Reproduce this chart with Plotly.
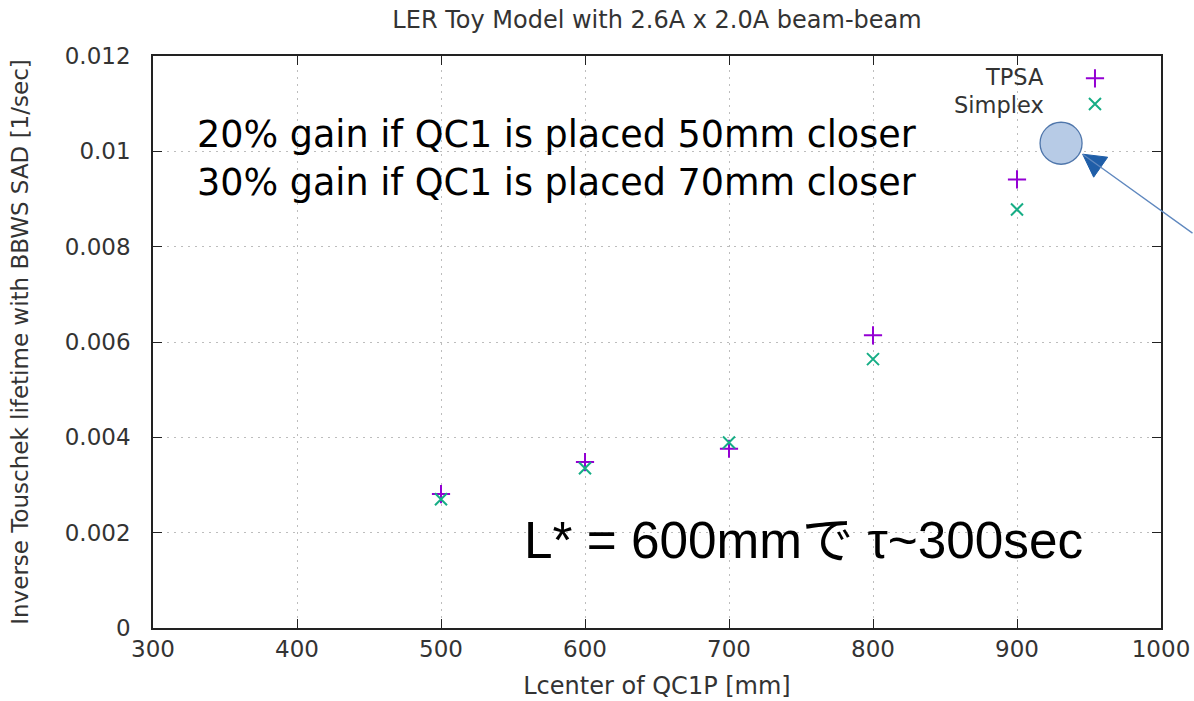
import plotly.graph_objects as go

# ---- data ----
lcenter = [500, 600, 700, 800, 900]
tpsa = [0.00281, 0.00348, 0.00376, 0.00614, 0.00941]
simplex = [0.00270, 0.00335, 0.00389, 0.00564, 0.00878]
series_names = ["TPSA", "Simplex"]
x_ticks = [300, 400, 500, 600, 700, 800, 900, 1000]
y_ticks = [0, 0.002, 0.004, 0.006, 0.008, 0.010, 0.012]
y_tick_labels = ["0", "0.002", "0.004", "0.006", "0.008", "0.01", "0.012"]
highlight = (930.6, 0.01017)     # circled target point
arrow_tip = (945.6, 0.00994)

title = "LER Toy Model with 2.6A x 2.0A beam-beam"
x_title = "Lcenter of QC1P [mm]"
y_title = "Inverse Touschek lifetime with BBWS SAD [1/sec]"
note1 = "20% gain if QC1 is placed 50mm closer"
note2 = "30% gain if QC1 is placed 70mm closer"
note3 = "L* = 600mmで τ~300sec"

PURPLE = "#9400d3"
GREEN = "#16ad85"
GNU_FONT = "DejaVu Sans"
TXT = "#333333"

fig = go.Figure()
fig.add_trace(go.Scatter(x=lcenter, y=tpsa, mode="markers", name=series_names[0],
                         marker=dict(symbol="cross-thin", size=13, line=dict(width=2, color=PURPLE)),
                         showlegend=False))
fig.add_trace(go.Scatter(x=lcenter, y=simplex, mode="markers", name=series_names[1],
                         marker=dict(symbol="x-thin", size=12, line=dict(width=2, color=GREEN)),
                         showlegend=False))

# legend keys (gnuplot style: text then symbol) on a hidden overlay axis
fig.add_trace(go.Scatter(x=[0.9345], y=[0.961], mode="markers", xaxis="x2", yaxis="y2",
                         marker=dict(symbol="cross-thin", size=13, line=dict(width=2, color=PURPLE)),
                         showlegend=False, hoverinfo="skip"))
fig.add_trace(go.Scatter(x=[0.9345], y=[0.916], mode="markers", xaxis="x2", yaxis="y2",
                         marker=dict(symbol="x-thin", size=12, line=dict(width=2, color=GREEN)),
                         showlegend=False, hoverinfo="skip"))

axis_common = dict(showline=True, linecolor="#222222", linewidth=1.6, mirror="ticks",
                   ticks="inside", ticklen=9, tickwidth=1.3, tickcolor="#222222",
                   showgrid=True, gridcolor="#bdbdbd", griddash="2px,5px", gridwidth=1,
                   zeroline=False, automargin=False,
                   tickfont=dict(family=GNU_FONT, size=23, color=TXT))

fig.update_layout(
    width=1194, height=701,
    margin=dict(l=153, r=33, t=56, b=73),
    paper_bgcolor="white", plot_bgcolor="white",
    title=dict(text=title, xref="paper", x=0.5, xanchor="center", y=0.972, yanchor="middle",
               font=dict(family=GNU_FONT, size=24, color=TXT)),
    xaxis=dict(range=[300, 1000], tickvals=x_ticks, ticklabelstandoff=0,
               title=dict(text=x_title, font=dict(family=GNU_FONT, size=24, color=TXT), standoff=16),
               **axis_common),
    yaxis=dict(range=[0, 0.012], tickvals=y_ticks, ticktext=y_tick_labels, ticklabelstandoff=16,
               title=dict(text=y_title, font=dict(family=GNU_FONT, size=23, color=TXT), standoff=30),
               **axis_common),
    xaxis2=dict(range=[0, 1], overlaying="x", visible=False),
    yaxis2=dict(range=[0, 1], overlaying="y", visible=False),
    showlegend=False,
)

# legend text
fig.add_annotation(x=0.885, y=0.963, xref="paper", yref="paper", text=series_names[0],
                   showarrow=False, xanchor="right", yanchor="middle", borderpad=0,
                   font=dict(family=GNU_FONT, size=22.5, color=TXT))
fig.add_annotation(x=0.885, y=0.914, xref="paper", yref="paper", text=series_names[1],
                   showarrow=False, xanchor="right", yanchor="middle", borderpad=0,
                   font=dict(family=GNU_FONT, size=22.5, color=TXT))

# notes
note_font = "DejaVu Sans, Noto Sans CJK JP"
fig.add_annotation(x=0.0417, y=0.862, xref="paper", yref="paper", text=note1,
                   showarrow=False, xanchor="left", yanchor="middle",
                   font=dict(family=note_font, size=36.5, color="black"))
fig.add_annotation(x=0.0417, y=0.778, xref="paper", yref="paper", text=note2,
                   showarrow=False, xanchor="left", yanchor="middle",
                   font=dict(family=note_font, size=36.5, color="black"))
fig.add_annotation(x=0.366, y=0.153, xref="paper", yref="paper", text=note3,
                   showarrow=False, xanchor="left", yanchor="middle",
                   font=dict(family="Liberation Sans, Arial, Noto Sans CJK JP", size=51.3, color="black"))

# highlight circle
fig.add_shape(type="circle", xref="x", yref="y", xsizemode="pixel", ysizemode="pixel",
              xanchor=highlight[0], yanchor=highlight[1], x0=-21, x1=21, y0=-21, y1=21,
              fillcolor="#b7cbe6", line=dict(color="#4f76ab", width=1.3))

# arrow line
fig.add_annotation(x=arrow_tip[0], y=arrow_tip[1], xref="x", yref="y", ax=125, ay=80,
                   text="", showarrow=True, arrowhead=0, arrowwidth=1.3, arrowcolor="#5f88bf")
# arrow head
fig.add_shape(type="path", xref="x", yref="y", xsizemode="pixel", ysizemode="pixel",
              xanchor=arrow_tip[0], yanchor=arrow_tip[1],
              path="M 0 0 L 25 -3 L 11 -23 Z",
              fillcolor="#1f5ea8", line=dict(color="#1f5ea8", width=1))

fig.write_html("out.html")
